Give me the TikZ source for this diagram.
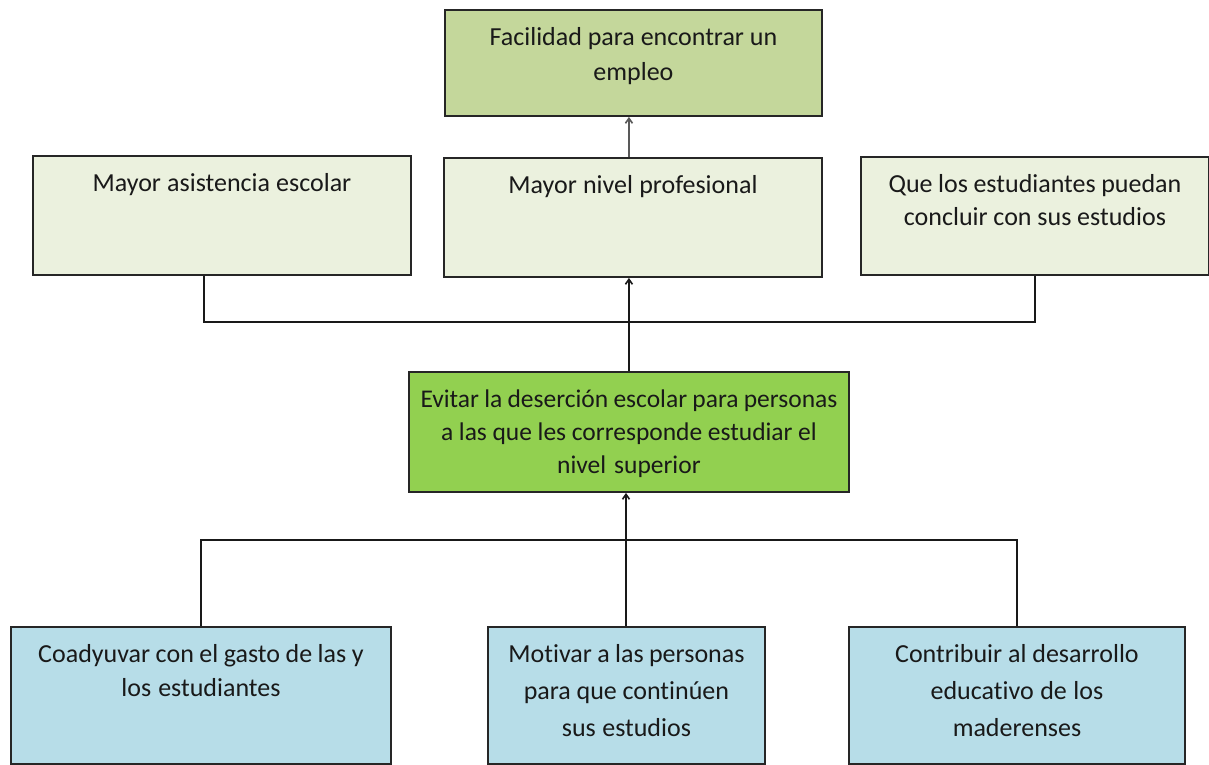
\documentclass[tikz,border=0pt]{standalone}
\usepackage{fontspec}
\setmainfont{Carlito}[Ligatures=NoCommon]
\usetikzlibrary{arrows.meta}
\definecolor{finc}{HTML}{C4D79B}
\definecolor{medc}{HTML}{EBF1DE}
\definecolor{objc}{HTML}{92D050}
\definecolor{medioc}{HTML}{B7DDE8}
\newcommand\boxspace{\spaceskip=5pt plus 1pt\relax\hyphenpenalty=10000\relax}
\begin{document}
\begin{tikzpicture}[x=1pt,y=-1pt,
	lsp/.style={font=\fontsize{26}{#1}\selectfont},
	every node/.style={draw=black!85,line width=1.9pt,inner sep=0pt,anchor=north west,
		align=center,text height=36pt,text=black!90,lsp=35,execute at begin node=\boxspace},
	line/.style={line width=1.6pt,black!90},
	>={Straight Barb[length=5pt,width=7pt]}]
\useasboundingbox (0,0) rectangle (1209,764);
\node[fill=finc,text width=377pt,text depth=70pt] (fac) at (444,9) {Facilidad para encontrar un\\empleo};
\node[fill=medc,text width=378pt,text depth=83pt] (mas) at (32,155) {Mayor asistencia escolar};
\node[fill=medc,text width=378pt,text depth=83pt] (mnp) at (443,157) {Mayor nivel profesional};
\node[fill=medc,text width=348pt,text depth=82pt,lsp=33] (que) at (860,156) {Que los estudiantes puedan\\concluir con sus estudios};
\node[fill=objc,text width=440pt,text depth=84pt,lsp=33,font=\fontsize{25.5}{33}\selectfont] (evi) at (408,371) {Evitar la deserción escolar para personas\\a las que les corresponde estudiar el\\nivel superior};
\node[fill=medioc,text width=380pt,text depth=101pt,lsp=34] (coa) at (10,626) {Coadyuvar con el gasto de las y\\los estudiantes};
\node[fill=medioc,text width=277pt,text depth=101pt,lsp=37] (mot) at (487,626) {Motivar a las personas\\para que continúen\\sus estudios};
\node[fill=medioc,text width=336pt,text depth=101pt,lsp=37] (con) at (848,626) {Contribuir al desarrollo\\educativo de los\\maderenses};
\coordinate (tj) at (628,322);
\coordinate (bj) at (626,540);
\draw[line] ([xshift=-18pt]mas.south) |- (tj) -| (que.south);
\draw[line,->] (evi.north) -- (evi.north |- mnp.south);
\draw[line,black!65,->] (evi.north |- mnp.north) -- (evi.north |- fac.south);
\draw[line] (coa.north) |- (bj) -| (con.north);
\draw[line,->] (bj) -- (bj |- evi.south);
\draw[line] (bj) -- (bj |- mot.north);
\end{tikzpicture}
\end{document}
